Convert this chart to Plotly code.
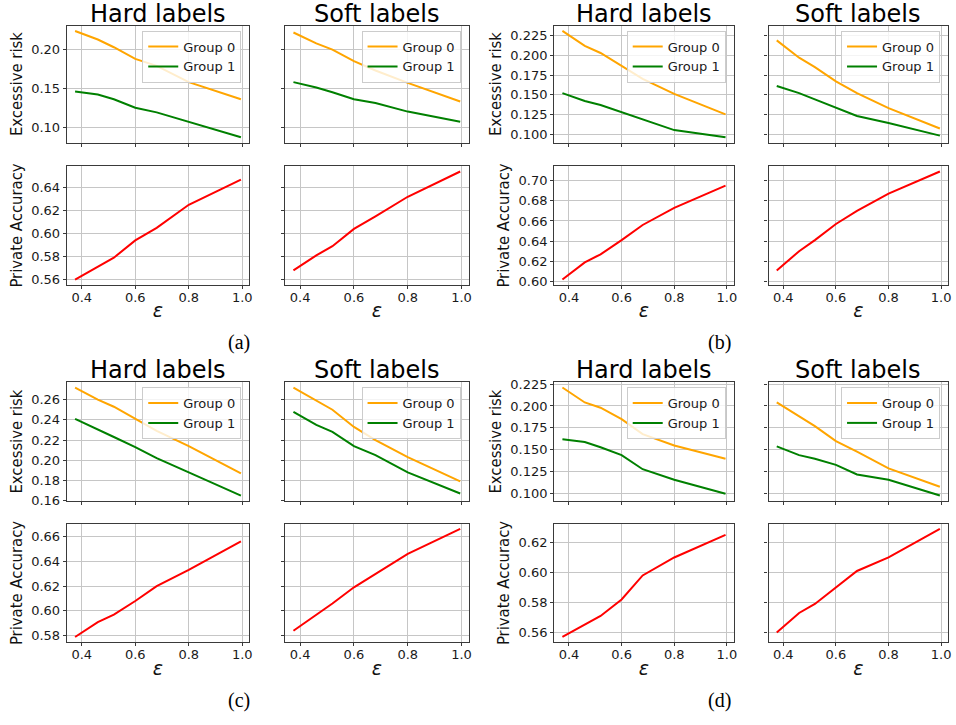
import plotly.graph_objects as go

# privacy budget values on the x axis
eps = [0.375, 0.46, 0.52, 0.6, 0.68, 0.8, 0.995]

# (a)
a_hard_group0 = [0.224, 0.213, 0.203, 0.188, 0.179, 0.158, 0.136]
a_hard_group1 = [0.146, 0.142, 0.136, 0.125, 0.119, 0.107, 0.087]
a_soft_group0 = [0.222, 0.208, 0.200, 0.185, 0.173, 0.157, 0.133]
a_soft_group1 = [0.158, 0.151, 0.145, 0.136, 0.131, 0.120, 0.107]
a_hard_acc = [0.560, 0.571, 0.579, 0.594, 0.605, 0.625, 0.647]
a_soft_acc = [0.568, 0.581, 0.589, 0.604, 0.615, 0.632, 0.654]

# (b)
b_hard_group0 = [0.231, 0.212, 0.203, 0.187, 0.170, 0.151, 0.125]
b_hard_group1 = [0.152, 0.142, 0.137, 0.128, 0.118, 0.105, 0.096]
b_soft_group0 = [0.219, 0.197, 0.185, 0.167, 0.152, 0.133, 0.107]
b_soft_group1 = [0.161, 0.152, 0.144, 0.133, 0.123, 0.114, 0.098]
b_hard_acc = [0.602, 0.619, 0.627, 0.641, 0.656, 0.673, 0.695]
b_soft_acc = [0.611, 0.630, 0.641, 0.657, 0.670, 0.687, 0.709]

# (c)
c_hard_group0 = [0.272, 0.260, 0.253, 0.241, 0.229, 0.214, 0.187]
c_hard_group1 = [0.241, 0.230, 0.223, 0.213, 0.202, 0.188, 0.165]
c_soft_group0 = [0.272, 0.259, 0.250, 0.233, 0.220, 0.203, 0.179]
c_soft_group1 = [0.248, 0.235, 0.228, 0.214, 0.205, 0.188, 0.167]
c_hard_acc = [0.579, 0.591, 0.597, 0.608, 0.620, 0.633, 0.656]
c_soft_acc = [0.584, 0.597, 0.606, 0.619, 0.630, 0.646, 0.666]

# (d)
d_hard_group0 = [0.221, 0.204, 0.198, 0.185, 0.168, 0.155, 0.140]
d_hard_group1 = [0.162, 0.159, 0.153, 0.144, 0.128, 0.116, 0.100]
d_soft_group0 = [0.204, 0.188, 0.177, 0.160, 0.148, 0.129, 0.108]
d_soft_group1 = [0.154, 0.144, 0.140, 0.133, 0.122, 0.116, 0.098]
d_hard_acc = [0.557, 0.565, 0.571, 0.582, 0.598, 0.610, 0.625]
d_soft_acc = [0.560, 0.573, 0.579, 0.590, 0.601, 0.610, 0.629]

column_titles = ["Hard labels", "Soft labels"]
series_names = ["Group 0", "Group 1"]
panel_labels = ["(a)", "(b)", "(c)", "(d)"]
x_ticks = [0.4, 0.6, 0.8, 1.0]

W, H = 956, 725
COL_PX = [(67, 250), (286, 470), (556, 736), (771, 951)]
ROW_PX = [(20, 139), (163, 284), (383, 504), (527, 648)]
CAPTION_X_PX = [240, 722]

ORANGE, GREEN, RED = "#ffa500", "#008000", "#ff0000"
TICK_FONT = dict(family="DejaVu Sans", size=13, color="#1a1a1a")
YLAB_FONT = dict(family="Liberation Sans Narrow, DejaVu Sans Condensed, Roboto", size=16.5, color="#111")
TITLE_SIZE = 24
GRID = "#c6c6c6"
SPINE = "#3a3a3a"

panels = [
    dict(col=0, row=0, cap=0, label=panel_labels[0],
         risk=[(a_hard_group0, a_hard_group1), (a_soft_group0, a_soft_group1)],
         acc=[a_hard_acc, a_soft_acc], rdt=0.05, rfmt=".2f", adt=0.02),
    dict(col=2, row=0, cap=1, label=panel_labels[1],
         risk=[(b_hard_group0, b_hard_group1), (b_soft_group0, b_soft_group1)],
         acc=[b_hard_acc, b_soft_acc], rdt=0.025, rfmt=".3f", adt=0.02),
    dict(col=0, row=2, cap=0, label=panel_labels[2],
         risk=[(c_hard_group0, c_hard_group1), (c_soft_group0, c_soft_group1)],
         acc=[c_hard_acc, c_soft_acc], rdt=0.02, rfmt=".2f", adt=0.02),
    dict(col=2, row=2, cap=1, label=panel_labels[3],
         risk=[(d_hard_group0, d_hard_group1), (d_soft_group0, d_soft_group1)],
         acc=[d_hard_acc, d_soft_acc], rdt=0.025, rfmt=".3f", adt=0.02),
]


def xdom(c):
    return [COL_PX[c][0] / W, COL_PX[c][1] / W]


def ydom(r):
    return [1 - ROW_PX[r][1] / H, 1 - ROW_PX[r][0] / H]


def padded(values, frac=0.05):
    lo, hi = min(values), max(values)
    d = (hi - lo) * frac
    return [lo - d, hi + d]


x_range = padded(eps)

fig = go.Figure()
layout = dict(
    width=W, height=H,
    margin=dict(l=0, r=0, t=0, b=0),
    paper_bgcolor="white", plot_bgcolor="white",
    annotations=[],
)

axis_idx = 0
legend_idx = 0
for p in panels:
    risk_range = padded([v for pair in p["risk"] for s in pair for v in s])
    acc_range = padded([v for s in p["acc"] for v in s])
    for j in range(2):  # hard / soft
        col = p["col"] + j
        for i in range(2):  # risk / accuracy
            row = p["row"] + i
            axis_idx += 1
            xa = "x" if axis_idx == 1 else f"x{axis_idx}"
            ya = "y" if axis_idx == 1 else f"y{axis_idx}"
            xkey = "xaxis" if axis_idx == 1 else f"xaxis{axis_idx}"
            ykey = "yaxis" if axis_idx == 1 else f"yaxis{axis_idx}"

            if i == 0:
                legend_idx += 1
                lkey = "legend" if legend_idx == 1 else f"legend{legend_idx}"
                for name, vals, color in zip(series_names, p["risk"][j], [ORANGE, GREEN]):
                    fig.add_trace(go.Scatter(
                        x=eps, y=vals, mode="lines", name=name,
                        line=dict(color=color, width=2),
                        xaxis=xa, yaxis=ya, legend=lkey, showlegend=True,
                    ))
                layout[lkey] = dict(
                    x=(COL_PX[col][1] - 8) / W, y=1 - (ROW_PX[row][0] + 5) / H,
                    xanchor="right", yanchor="top",
                    bgcolor="rgba(255,255,255,0.8)", bordercolor="#cccccc", borderwidth=1,
                    font=dict(family="DejaVu Sans", size=13, color="#1a1a1a"),
                    itemwidth=30, tracegroupgap=0,
                )
                yr, dt, fmt = risk_range, p["rdt"], p["rfmt"]
                ytitle = "Excessive risk"
            else:
                fig.add_trace(go.Scatter(
                    x=eps, y=p["acc"][j], mode="lines",
                    line=dict(color=RED, width=2),
                    xaxis=xa, yaxis=ya, showlegend=False,
                ))
                yr, dt, fmt = acc_range, p["adt"], ".2f"
                ytitle = "Private Accuracy"

            common = dict(
                showgrid=True, gridcolor=GRID, gridwidth=1,
                showline=True, linecolor=SPINE, linewidth=1.2, mirror=True,
                ticks="outside", ticklen=3, tickcolor=SPINE, tickwidth=1,
                zeroline=False, tickfont=TICK_FONT,
            )
            layout[xkey] = dict(
                common, domain=xdom(col), anchor=ya, range=x_range,
                tickvals=x_ticks, tickformat=".1f",
                showticklabels=(i == 1), ticklabelstandoff=-3,
                title=dict(text="<i>ε</i>", font=dict(family="DejaVu Sans", size=19, color="#111"),
                           standoff=0) if i == 1 else None,
            )
            layout[ykey] = dict(
                common, domain=ydom(row), anchor=xa, range=yr,
                tick0=0, dtick=dt, tickformat=fmt,
                showticklabels=(j == 0),
                title=dict(text=ytitle, font=YLAB_FONT, standoff=4) if j == 0 else None,
            )

            if i == 0:
                # baseline a couple of pixels above the frame
                baseline = ROW_PX[row][0] - 2.5
                box_bottom = baseline + 0.236 * TITLE_SIZE + 1
                layout["annotations"].append(dict(
                    text=column_titles[j], xref="paper", yref="paper",
                    x=sum(xdom(col)) / 2, y=1 - box_bottom / H,
                    xanchor="center", yanchor="bottom", showarrow=False,
                    font=dict(family="DejaVu Sans", size=TITLE_SIZE, color="#000"),
                ))

    # panel caption under each block
    cy_px = ROW_PX[p["row"] + 1][1] + 59
    layout["annotations"].append(dict(
        text=p["label"], xref="paper", yref="paper",
        x=CAPTION_X_PX[p["cap"]] / W, y=1 - cy_px / H,
        xanchor="center", yanchor="middle", showarrow=False,
        font=dict(family="Liberation Serif", size=20, color="#000"),
    ))

fig.update_layout(**layout)
fig.write_html("out.html")
